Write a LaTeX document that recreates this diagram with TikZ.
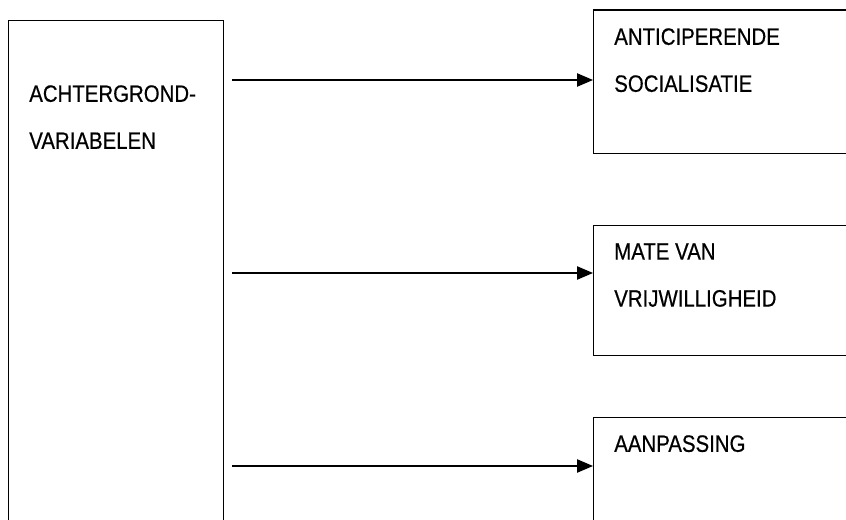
\documentclass[tikz,border=0pt]{standalone}
\usepackage{fontspec}
\setmainfont{Liberation Sans}[FakeStretch=0.86,FakeBold=0.5]
\usetikzlibrary{arrows.meta}

\tikzset{
  blok/.style={draw, line width=0.9pt, inner sep=0pt, anchor=north west},
  tekst/.style={anchor=north west, inner sep=0pt, align=left, font=\fontsize{17.8}{35.25}\selectfont},
  pijl/.style={line width=0.9pt, -{Triangle[length=12pt,width=10pt]}}
}

\begin{document}
\begin{tikzpicture}[x=0.75pt,y=0.75pt,yscale=-1,xscale=1]
\useasboundingbox (0,0) rectangle (846,520);
\clip (0,0) rectangle (846,520);

%Shape: Rectangle [left]
\node [blok, minimum width=161.25pt, minimum height=390pt] (achtergrond) at (8,20) {};
%Shape: Rectangle [right, top]
\node [blok, minimum width=207.75pt, minimum height=107.6pt] (anticip) at (593,9.5) {};
%Shape: Rectangle [right, middle]
\node [blok, minimum width=207.75pt, minimum height=97.5pt] (vrijwil) at (593,225) {};
%Shape: Rectangle [right, bottom]
\node [blok, minimum width=207.75pt, minimum height=92.25pt] (aanpas) at (593,417) {};

% Text Node
\node [tekst] (t1) at (29,85) {ACHTERGROND-\\VARIABELEN};
% Text Node
\node [tekst] (t2) at (614,28) {ANTICIPERENDE\\SOCIALISATIE};
% Text Node
\node [tekst] (t3) at (614,243) {MATE VAN\\VRIJWILLIGHEID};
% Text Node
\node [tekst] (t4) at (614,435) {AANPASSING};

%Straight Lines
\coordinate (s1) at (232,80);
\coordinate (s2) at (232,273);
\coordinate (s3) at (232,466);
\draw [pijl] (s1) -- (s1 -| anticip.west);
\draw [pijl] (s2) -- (s2 -| vrijwil.west);
\draw [pijl] (s3) -- (s3 -| aanpas.west);
\end{tikzpicture}
\end{document}
